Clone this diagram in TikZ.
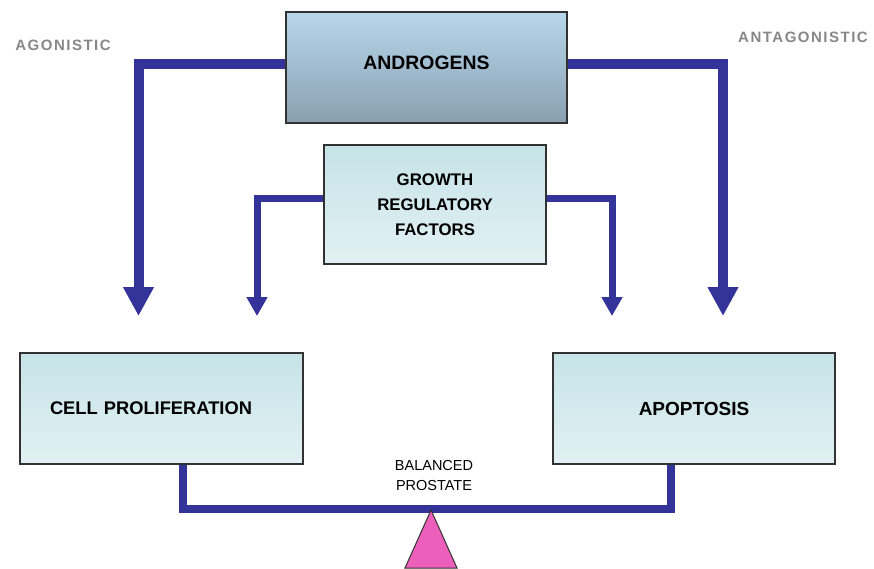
\documentclass[tikz,border=0pt]{standalone}
\usepackage{fontspec}
\setmainfont{Liberation Sans}
\newfontfamily\spacedfont{Liberation Sans}[LetterSpace=10]
\usetikzlibrary{arrows.meta,backgrounds}
\definecolor{arrowblue}{RGB}{51,51,153}
\definecolor{boxline}{RGB}{50,50,50}
\definecolor{androtop}{RGB}{183,215,235}
\definecolor{androbot}{RGB}{138,160,176}
\definecolor{paletop}{RGB}{198,227,232}
\definecolor{palebot}{RGB}{226,241,243}
\definecolor{sidegray}{RGB}{135,135,135}
\definecolor{fulcrum}{RGB}{236,96,188}
\begin{document}
\begin{tikzpicture}[x=1pt,y=-1pt,
  box/.style={draw=boxline,line width=1.2pt,inner sep=0pt,font=\bfseries},
  andbox/.style={box,top color=androtop,bottom color=androbot},
  palebox/.style={box,top color=paletop,bottom color=palebot},
  bigarrow/.style={draw=arrowblue,line width=10pt,line join=miter,
    -{Triangle[length=29pt,width=29pt]},arrowblue},
  smallarrow/.style={draw=arrowblue,line width=7pt,line join=miter,
    -{Triangle[length=19pt,width=20pt]},arrowblue},
  beamline/.style={draw=arrowblue,line width=8pt,line join=miter},
  sidelabel/.style={font=\spacedfont\bfseries\fontsize{15}{17}\selectfont,text=sidegray,inner sep=0pt}
]
\useasboundingbox (0,0) rectangle (874,568);

\node[andbox,minimum width=281pt,minimum height=111pt,text height=3pt,text depth=0pt,font=\bfseries\fontsize{19.4}{24}\selectfont] (andro) at (426.5,67.5) {ANDROGENS};
\node[palebox,minimum width=222pt,minimum height=119pt,align=center,font=\bfseries\fontsize{16.8}{25}\selectfont] (growth) at (435,204.5) {GROWTH\\REGULATORY\\FACTORS};
\node[palebox,text width=223pt,inner xsep=30pt,minimum height=111pt,align=left,font=\bfseries\fontsize{18.3}{22}\selectfont] (cell) at (161.5,408.5) {CELL PROLIFERATION};
\node[palebox,minimum width=282pt,minimum height=111pt,font=\bfseries\fontsize{19}{22}\selectfont] (apop) at (694,408.5) {APOPTOSIS};

\node[sidelabel] (agon) at (63,45) {AGONISTIC};
\node[sidelabel] (antag) at (803,37) {ANTAGONISTIC};

\node[align=center,inner sep=0pt,font=\fontsize{14.5}{20}\selectfont] (bal) at (434,475) {BALANCED\\PROSTATE};

\coordinate (tipL) at (138.5,316);
\coordinate (tipR) at (723,316);
\coordinate (tipGL) at (257,316);
\coordinate (tipGR) at (612,316);
\coordinate (beam) at (431,508.5);

\begin{scope}[on background layer]
\draw[bigarrow] ([yshift=3.5pt]andro.west) -| (tipL);
\draw[bigarrow] ([yshift=3.5pt]andro.east) -| (tipR);
\draw[smallarrow] ([yshift=6pt]growth.west) -| (tipGL);
\draw[smallarrow] ([yshift=6pt]growth.east) -| (tipGR);
\draw[beamline] ([xshift=21.5pt]cell.south) |- (beam) -| ([xshift=-23pt]apop.south);
\end{scope}

\draw[draw=boxline,line width=1pt,fill=fulcrum,line join=miter] (beam) ++(0,1.5) -- (457,568) -- (405,568) -- cycle;
\end{tikzpicture}
\end{document}
